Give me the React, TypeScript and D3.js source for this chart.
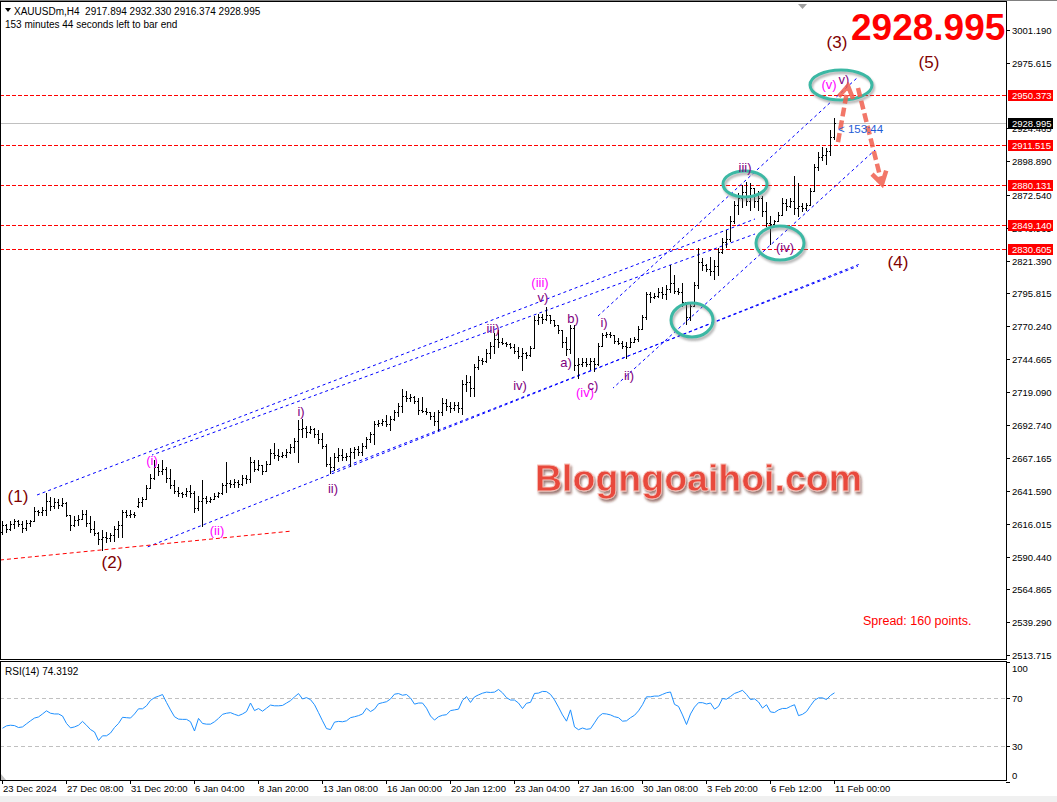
import React from "react";
import * as d3 from "d3";

const W = 1057;
const H = 802;
const AXIS_X = 1006;
const MAIN_TOP = 2;
const MAIN_BOT = 659;
const RSI_TOP = 661;
const RSI_BOT = 780;

// H4 bars [open, high, low, close], 23 Dec 2024 -> 11 Feb 2025
const bars: [number, number, number, number][] = [
  [2610, 2618, 2608, 2615], [2615, 2616, 2610, 2612], [2612, 2618, 2611, 2616], [2616, 2620, 2613, 2618],
  [2618, 2619, 2614, 2616], [2616, 2618, 2610, 2613], [2613, 2619, 2611, 2617], [2617, 2619, 2614, 2618],
  [2618, 2629, 2618, 2626], [2626, 2627, 2623, 2625], [2625, 2629, 2623, 2627], [2627, 2640, 2623, 2634],
  [2634, 2637, 2627, 2630], [2630, 2636, 2628, 2633], [2633, 2635, 2628, 2631], [2631, 2636, 2630, 2632],
  [2632, 2633, 2622, 2623], [2623, 2623, 2611, 2615], [2615, 2622, 2614, 2619], [2619, 2623, 2615, 2620],
  [2620, 2627, 2620, 2624], [2624, 2627, 2614, 2617], [2617, 2622, 2610, 2612], [2612, 2618, 2607, 2609],
  [2609, 2610, 2600, 2604], [2604, 2611, 2596, 2606], [2606, 2610, 2602, 2605], [2605, 2609, 2603, 2607],
  [2607, 2614, 2603, 2612], [2612, 2618, 2606, 2615], [2615, 2627, 2606, 2625], [2625, 2627, 2621, 2623],
  [2623, 2627, 2621, 2624], [2624, 2625, 2621, 2623], [2630, 2636, 2629, 2633], [2633, 2637, 2630, 2635],
  [2635, 2646, 2635, 2644], [2644, 2655, 2644, 2652], [2652, 2666, 2651, 2660], [2660, 2663, 2654, 2657],
  [2657, 2666, 2655, 2659], [2659, 2660, 2649, 2652], [2652, 2659, 2644, 2646], [2646, 2650, 2640, 2642],
  [2642, 2645, 2638, 2640], [2640, 2641, 2637, 2639], [2639, 2644, 2638, 2642], [2642, 2646, 2637, 2640],
  [2640, 2642, 2625, 2628], [2628, 2638, 2627, 2634], [2634, 2650, 2614, 2636], [2636, 2638, 2632, 2634],
  [2634, 2637, 2633, 2635], [2635, 2640, 2635, 2638], [2638, 2641, 2637, 2640], [2640, 2648, 2639, 2646],
  [2646, 2664, 2641, 2648], [2648, 2650, 2645, 2647], [2647, 2651, 2645, 2649], [2649, 2650, 2645, 2647],
  [2647, 2654, 2646, 2652], [2652, 2654, 2648, 2651], [2651, 2668, 2649, 2664], [2664, 2666, 2657, 2659],
  [2659, 2666, 2658, 2662], [2662, 2662, 2655, 2657], [2657, 2665, 2657, 2663], [2663, 2674, 2663, 2671],
  [2671, 2679, 2667, 2670], [2670, 2674, 2666, 2669], [2669, 2672, 2668, 2670], [2670, 2674, 2668, 2672],
  [2672, 2678, 2671, 2676], [2676, 2683, 2672, 2681], [2681, 2697, 2664, 2690], [2690, 2698, 2684, 2691],
  [2691, 2692, 2684, 2688], [2688, 2692, 2687, 2690], [2690, 2691, 2684, 2686], [2686, 2689, 2679, 2682],
  [2682, 2687, 2675, 2677], [2677, 2678, 2661, 2663], [2663, 2668, 2656, 2660], [2660, 2671, 2658, 2668],
  [2668, 2675, 2665, 2670], [2670, 2674, 2666, 2668], [2668, 2671, 2666, 2669], [2669, 2675, 2661, 2672],
  [2672, 2676, 2667, 2674], [2674, 2677, 2670, 2672], [2672, 2679, 2670, 2677], [2677, 2684, 2675, 2682],
  [2682, 2688, 2680, 2686], [2686, 2696, 2678, 2694], [2694, 2697, 2692, 2695], [2695, 2698, 2693, 2696],
  [2696, 2701, 2692, 2694], [2694, 2700, 2689, 2698], [2698, 2705, 2697, 2703], [2703, 2710, 2700, 2708],
  [2708, 2721, 2703, 2716], [2716, 2720, 2712, 2714], [2714, 2717, 2712, 2715], [2715, 2716, 2710, 2712],
  [2712, 2714, 2702, 2705], [2705, 2715, 2703, 2704], [2704, 2706, 2702, 2703], [2703, 2703, 2698, 2700],
  [2700, 2703, 2693, 2696], [2696, 2705, 2689, 2703], [2703, 2714, 2701, 2710], [2710, 2713, 2705, 2708],
  [2708, 2711, 2703, 2706], [2706, 2711, 2705, 2709], [2709, 2711, 2703, 2706], [2706, 2728, 2702, 2725],
  [2725, 2732, 2720, 2727], [2727, 2731, 2716, 2722], [2722, 2741, 2716, 2738], [2738, 2747, 2737, 2744],
  [2744, 2745, 2741, 2743], [2743, 2752, 2742, 2749], [2749, 2758, 2745, 2755], [2755, 2765, 2749, 2760],
  [2760, 2767, 2754, 2758], [2758, 2761, 2756, 2757], [2757, 2758, 2755, 2756], [2756, 2757, 2753, 2754],
  [2754, 2756, 2749, 2751], [2751, 2754, 2745, 2747], [2747, 2753, 2736, 2749], [2749, 2750, 2745, 2748],
  [2748, 2755, 2747, 2753], [2753, 2778, 2753, 2775], [2775, 2780, 2772, 2777], [2777, 2780, 2773, 2776],
  [2776, 2785, 2775, 2779], [2779, 2779, 2773, 2775], [2775, 2775, 2770, 2771], [2771, 2771, 2765, 2767],
  [2767, 2767, 2754, 2758], [2758, 2762, 2748, 2752], [2752, 2771, 2749, 2769], [2769, 2771, 2736, 2740],
  [2740, 2745, 2730, 2741], [2741, 2745, 2739, 2742], [2742, 2745, 2739, 2741], [2741, 2745, 2737, 2743],
  [2743, 2745, 2735, 2741], [2741, 2757, 2740, 2755], [2755, 2765, 2755, 2763], [2763, 2766, 2762, 2764],
  [2764, 2766, 2762, 2763], [2763, 2763, 2757, 2759], [2759, 2761, 2756, 2757], [2757, 2759, 2753, 2755],
  [2755, 2758, 2745, 2754], [2754, 2761, 2754, 2758], [2758, 2762, 2758, 2760], [2760, 2770, 2759, 2768],
  [2768, 2779, 2768, 2777], [2777, 2797, 2776, 2795], [2795, 2797, 2789, 2793], [2793, 2796, 2792, 2794],
  [2794, 2800, 2793, 2797], [2797, 2801, 2792, 2795], [2795, 2802, 2791, 2799], [2799, 2818, 2797, 2804],
  [2804, 2810, 2796, 2798], [2798, 2800, 2795, 2797], [2797, 2804, 2786, 2789], [2789, 2789, 2772, 2777],
  [2777, 2789, 2775, 2786], [2786, 2805, 2786, 2802], [2802, 2831, 2800, 2820], [2820, 2823, 2814, 2818],
  [2818, 2819, 2813, 2815], [2815, 2824, 2810, 2813], [2813, 2822, 2807, 2817], [2817, 2831, 2810, 2828],
  [2828, 2839, 2827, 2836], [2836, 2845, 2832, 2838], [2838, 2856, 2837, 2852], [2852, 2868, 2851, 2865],
  [2865, 2874, 2858, 2870], [2870, 2880, 2863, 2875], [2875, 2883, 2865, 2868], [2868, 2882, 2861, 2878],
  [2878, 2878, 2863, 2868], [2868, 2876, 2861, 2870], [2870, 2872, 2856, 2860], [2860, 2867, 2848, 2851],
  [2851, 2856, 2834, 2850], [2850, 2853, 2848, 2852], [2852, 2859, 2852, 2857], [2857, 2870, 2857, 2866],
  [2866, 2869, 2861, 2864], [2864, 2870, 2863, 2868], [2868, 2887, 2858, 2862], [2862, 2882, 2856, 2864],
  [2864, 2866, 2860, 2862], [2862, 2866, 2861, 2865], [2865, 2878, 2865, 2876], [2876, 2897, 2876, 2894],
  [2894, 2906, 2892, 2902], [2902, 2910, 2900, 2904], [2904, 2909, 2897, 2907], [2907, 2923, 2904, 2918],
  [2917.894, 2932.33, 2916.374, 2928.995],
];

const rsi = [
  44.8, 46.8, 47.3, 47.0, 45.4, 45.9, 48.5, 51.0, 53.3, 54.2, 56.7, 59.3, 57.3, 56.7, 56.7, 55.0, 48.8, 45.1,
  45.9, 47.3, 50.5, 47.3, 43.7, 41.7, 34.6, 38.5, 38.5, 40.8, 45.4, 48.8, 53.9, 53.6, 53.3, 56.7, 61.0,
  61.0, 63.5, 68.0, 70.3, 71.5, 72.9, 66.3, 60.1, 54.4, 52.4, 52.2, 52.2, 50.2, 42.5, 53.0, 48.8, 48.2, 48.2,
  50.2, 53.0, 56.4, 57.3, 57.8, 56.4, 55.3, 56.7, 58.7, 65.8, 59.5, 61.2, 59.0, 61.5, 64.1, 63.5, 63.5, 63.8,
  65.8, 67.8, 70.9, 73.7, 69.2, 70.3, 68.6, 64.4, 57.8, 51.0, 44.5, 43.7, 49.9, 50.5, 50.2, 51.0, 53.6, 54.4,
  55.3, 56.7, 61.5, 58.7, 60.7, 65.2, 66.1, 66.9, 69.2, 73.2, 73.7, 72.3, 72.9, 70.0, 64.9, 65.8,
  65.8, 61.5, 55.0, 51.6, 54.4, 55.6, 56.1, 59.5, 60.1, 60.7, 68.0, 71.2, 66.3, 70.9, 72.6, 74.0, 74.9, 74.6,
  74.9, 77.1, 74.3, 70.3, 68.3, 68.3, 65.8, 61.2,
  65.6, 66.4, 73.8, 74.1, 75.5, 75.3, 73.0, 68.4, 62.4, 55.9, 50.7, 60.1, 45.9, 43.6, 45.0, 43.9, 44.4, 49.3,
  54.4, 57.0, 56.7, 55.9, 54.4, 53.6, 50.7, 51.0, 53.6, 55.6, 59.3, 64.4, 71.0, 71.0, 71.6, 71.6, 73.0, 74.4,
  75.0, 64.7, 63.0, 55.9, 47.9, 56.7, 62.4, 66.1, 66.1, 65.0, 65.8, 60.7, 63.0, 69.6, 69.0, 71.3, 73.8, 75.0,
  76.4, 73.0, 68.7, 69.3, 66.7, 61.6, 64.4, 58.4, 57.9, 60.1, 61.3, 61.3, 63.0, 64.4, 55.3, 56.4, 58.7, 63.6,
  68.1, 70.1, 70.1, 68.7, 72.1, 74.3192,
];

const dateLabels = [
  "23 Dec 2024", "27 Dec 08:00", "31 Dec 20:00", "6 Jan 04:00", "8 Jan 20:00", "13 Jan 08:00", "16 Jan 00:00",
  "20 Jan 12:00", "23 Jan 04:00", "27 Jan 16:00", "30 Jan 08:00", "3 Feb 20:00", "6 Feb 12:00", "11 Feb 00:00",
];
const labelEvery = 16;

const priceTicks = [
  3001.19, 2975.615, 2924.465, 2898.89, 2872.54, 2846.965, 2821.39, 2795.815, 2770.24, 2744.665, 2719.09,
  2692.74, 2667.165, 2641.59, 2616.015, 2590.44, 2564.865, 2539.29, 2513.715,
];
const levels = [2950.373, 2911.515, 2880.131, 2849.14, 2830.605];
const lastPrice = 2928.995;
const rsiLevels = [70, 30];
const rsiTicks = [100, 70, 30, 0];

// trend lines as [barIndex, price] pairs
const channelLines: [number, number][][] = [
  [[8.75, 2638.5], [188.25, 2853.8]],
  [[37.5, 2669.7], [188.25, 2842.1]],
  [[35.75, 2597.2], [214.5, 2818.7]],
  [[82, 2656.1], [214, 2817.0]],
  [[149, 2778.1], [214, 2964.5]],
  [[152.75, 2721.9], [218.25, 2907.6]],
];
const redTrend: [number, number][] = [[-0.5, 2587.8], [72.5, 2610.4]];

const maroon = "#800000";
const purple = "#800080";
const magenta = "#ff00ff";
const waveLabels: { t: string; k: number; p: number; c: string; big?: boolean }[] = [
  { t: "(1)", k: 4, p: 2637.7, c: maroon, big: true },
  { t: "(2)", k: 27.5, p: 2586.2, c: maroon, big: true },
  { t: "(3)", k: 208.75, p: 2991.8, c: maroon, big: true },
  { t: "(4)", k: 224, p: 2820.2, c: maroon, big: true },
  { t: "(5)", k: 231.75, p: 2976.2, c: maroon, big: true },
  { t: "(i)", k: 37.5, p: 2665.8, c: magenta },
  { t: "(ii)", k: 53.75, p: 2611.2, c: magenta },
  { t: "i)", k: 74.75, p: 2704.0, c: purple },
  { t: "ii)", k: 82.75, p: 2643.2, c: purple },
  { t: "iii)", k: 122.75, p: 2768.0, c: purple },
  { t: "iv)", k: 129.5, p: 2724.3, c: purple },
  { t: "(iii)", k: 134.5, p: 2804.6, c: magenta },
  { t: "v)", k: 135.25, p: 2792.9, c: purple },
  { t: "b)", k: 142.75, p: 2775.8, c: purple },
  { t: "a)", k: 141, p: 2742.2, c: purple },
  { t: "(iv)", k: 145.75, p: 2718.8, c: magenta },
  { t: "c)", k: 147.75, p: 2724.3, c: purple },
  { t: "i)", k: 150.5, p: 2772.7, c: purple },
  { t: "ii)", k: 156.75, p: 2732.1, c: purple },
  { t: "iii)", k: 185.75, p: 2894.3, c: purple },
  { t: "(iv)", k: 195.75, p: 2831.2, c: purple },
  { t: "(v)", k: 206.75, p: 2958.3, c: magenta },
  { t: "v)", k: 210.5, p: 2962.2, c: purple },
];

const circles = [
  { k: 209.75, p: 2958.3, rx: 31, ry: 15 },
  { k: 185.75, p: 2881.1, rx: 22, ry: 13 },
  { k: 194.5, p: 2835.1, rx: 24, ry: 17 },
  { k: 172.5, p: 2775.0, rx: 21, ry: 17 },
];

const arrows: [number, number][][] = [
  [[209, 2913.8], [211.5, 2957.5]],
  [[214, 2955.9], [220, 2881.1]],
];

const x = d3.scaleLinear().domain([0, 208]).range([2, 834]);
const y = d3.scaleLinear().domain([3001.19, 2513.715]).range([30, 655]);
const ry = d3.scaleLinear().domain([0, 100]).range([782, 662]);

const font = "'Liberation Sans', Arial, sans-serif";

function arrowPaths(a: [number, number][]) {
  const [x1, y1] = [x(a[0][0]), y(a[0][1])];
  const [x2, y2] = [x(a[1][0]), y(a[1][1])];
  const ang = Math.atan2(y2 - y1, x2 - x1);
  const L = 14;
  const p1 = [x2 - L * Math.cos(ang - 0.55), y2 - L * Math.sin(ang - 0.55)];
  const p2 = [x2 - L * Math.cos(ang + 0.55), y2 - L * Math.sin(ang + 0.55)];
  return { line: `M${x1},${y1}L${x2},${y2}`, head: `M${p1[0]},${p1[1]}L${x2},${y2}L${p2[0]},${p2[1]}` };
}

export default function App() {
  const rsiLine = d3
    .line<number>()
    .x((_, i) => Math.round(x(i)) + 0.5)
    .y((d) => ry(d))(rsi);
  const seg = d3
    .line<[number, number]>()
    .x((d) => x(d[0]))
    .y((d) => y(d[1]));

  return (
    <svg
      width={W}
      height={H}
      style={{ position: "absolute", left: 0, top: 0, background: "#fff" }}
      fontFamily={font}
    >
      <defs>
        <clipPath id="mainClip">
          <rect x={1} y={MAIN_TOP} width={AXIS_X - 1} height={MAIN_BOT - MAIN_TOP} />
        </clipPath>
        <clipPath id="rsiClip">
          <rect x={1} y={RSI_TOP} width={AXIS_X - 1} height={RSI_BOT - RSI_TOP} />
        </clipPath>
        <filter id="blur" x="-20%" y="-40%" width="140%" height="180%">
          <feGaussianBlur stdDeviation="1.3" />
        </filter>
        <filter id="wm" x="-5%" y="-20%" width="110%" height="150%">
          <feDropShadow dx="1.5" dy="2.5" stdDeviation="1.2" floodColor="#5a1a12" floodOpacity="0.6" />
        </filter>
      </defs>

      <rect x={0} y={796} width={W} height={6} fill="#f0f0f0" />

      {/* main panel */}
      <g clipPath="url(#mainClip)">
        {levels.map((l) => (
          <line key={l} x1={0} x2={AXIS_X} y1={Math.round(y(l)) + 0.5} y2={Math.round(y(l)) + 0.5}
            stroke="#ff0000" strokeDasharray="4,2" />
        ))}
        <line x1={0} x2={AXIS_X} y1={Math.round(y(lastPrice)) + 0.5} y2={Math.round(y(lastPrice)) + 0.5}
          stroke="#c0c0c0" />
        {channelLines.map((l, i) => (
          <path key={i} d={seg(l) || ""} stroke="#0000ff" strokeDasharray="3,3" strokeDashoffset={i * 1.5}
            fill="none" />
        ))}
        <path d={seg(redTrend) || ""} stroke="#ff0000" strokeDasharray="4,3" fill="none" />

        <g fill="#000" shapeRendering="crispEdges">
          {bars.map((b, i) => {
            const bx = Math.round(x(i));
            const yh = Math.round(y(b[1]));
            const yl = Math.round(y(b[2]));
            return (
              <g key={i}>
                <rect x={bx} y={yh} width={1} height={Math.max(1, yl - yh + 1)} />
                <rect x={bx - 1} y={Math.round(y(b[0]))} width={1} height={1} />
                <rect x={bx + 1} y={Math.round(y(b[3]))} width={1} height={1} />
              </g>
            );
          })}
        </g>

        {circles.map((c, i) => (
          <g key={i}>
            <ellipse cx={x(c.k) + 1.5} cy={y(c.p) + 2.5} rx={c.rx} ry={c.ry} fill="none" stroke="#777"
              strokeWidth={3} opacity={0.55} filter="url(#blur)" />
            <ellipse cx={x(c.k)} cy={y(c.p)} rx={c.rx} ry={c.ry} fill="none" stroke="#3cb8a4" strokeWidth={3} />
          </g>
        ))}

        {waveLabels.map((w, i) => (
          <text key={i} x={x(w.k)} y={y(w.p)} fill={w.c} fontSize={w.big ? 17 : 13} textAnchor="middle"
            dominantBaseline="central">{w.t}</text>
        ))}

        {arrows.map((a, i) => {
          const ap = arrowPaths(a);
          return (
            <g key={i} stroke="#f0604f" strokeWidth={4.5} fill="none" opacity={0.85} strokeDasharray="9,4">
              <path d={ap.line} />
              <path d={ap.head} strokeDasharray="none" />
            </g>
          );
        })}

        <text x={838} y={133} fill="#1e5cd6" fontSize={11.5}>{"< 153:44"}</text>

        <text x={535} y={491} fontSize={37.5} fontWeight="bold" fill="#e84a3c" stroke="#f8c0b8"
          strokeWidth={0.8} filter="url(#wm)">Blogngoaihoi.com</text>

        <text x={863} y={625} fill="#ff0000" fontSize={12.5}>Spread: 160 points.</text>
        <text x={851} y={40} fill="#ff0000" fontSize={37} fontWeight="bold">2928.995</text>

        <path d="M798,4 L807,4 L802.5,9 Z" fill="#a0a0a0" />
      </g>

      {/* RSI panel */}
      <g clipPath="url(#rsiClip)">
        {rsiLevels.map((l) => (
          <line key={l} x1={0} x2={AXIS_X} y1={Math.round(ry(l)) + 0.5} y2={Math.round(ry(l)) + 0.5}
            stroke="#c0c0c0" strokeDasharray="4,3" />
        ))}
        <path d={rsiLine || ""} fill="none" stroke="#1e90ff" strokeWidth={1} />
        <text x={5} y={675} fontSize={10} fill="#000">RSI(14) 74.3192</text>
        <path d="M1,774 L1,780 L6,780 Z" fill="#c0c0c0" />
      </g>

      {/* frames */}
      <g fill="none" stroke="#000" shapeRendering="crispEdges">
        <line x1={0} x2={W} y1={0.5} y2={0.5} stroke="#808080" />
        <rect x={0.5} y={MAIN_TOP - 0.5} width={AXIS_X} height={MAIN_BOT - MAIN_TOP + 0.5} />
        <rect x={0.5} y={RSI_TOP + 0.5} width={AXIS_X} height={RSI_BOT - RSI_TOP} />
      </g>

      {/* header */}
      <path d="M5,8 L11,8 L8,12 Z" fill="#000" />
      <text x={14} y={15} fontSize={10} fill="#000" style={{ whiteSpace: "pre" }}>
        XAUUSDm,H4  2917.894 2932.330 2916.374 2928.995
      </text>
      <text x={5} y={28} fontSize={10} fill="#000">153 minutes 44 seconds left to bar end</text>

      {/* price axis */}
      <g fontSize={9.5} fill="#000">
        {priceTicks.map((t) => {
          const ty = Math.round(y(t));
          return (
            <g key={t}>
              <line x1={AXIS_X} x2={AXIS_X + 4} y1={ty + 0.5} y2={ty + 0.5} stroke="#000" />
              <text x={1012} y={ty + 3.5}>{t.toFixed(3)}</text>
            </g>
          );
        })}
        {levels.map((l) => {
          const ty = Math.round(y(l));
          return (
            <g key={l}>
              <rect x={1008} y={ty - 5} width={45} height={11} fill="#ff0000" />
              <text x={1012} y={ty + 3.5} fill="#fff">{l.toFixed(3)}</text>
            </g>
          );
        })}
        <rect x={1008} y={Math.round(y(lastPrice)) - 5} width={45} height={11} fill="#000" />
        <text x={1012} y={Math.round(y(lastPrice)) + 3.5} fill="#fff">{lastPrice.toFixed(3)}</text>
      </g>

      {/* RSI axis */}
      <g fontSize={9.5} fill="#000">
        {rsiTicks.map((t) => {
          const ty = Math.round(ry(t));
          const ly = Math.min(Math.max(ty, 668), 775);
          return (
            <g key={t}>
              <line x1={AXIS_X} x2={AXIS_X + 4} y1={ty + 0.5} y2={ty + 0.5} stroke="#000" />
              <text x={1012} y={ly + 3.5}>{t}</text>
            </g>
          );
        })}
      </g>

      {/* time axis */}
      <g fontSize={9.5} fill="#000">
        {dateLabels.map((d, i) => {
          const tx = Math.round(x(i * labelEvery));
          return (
            <g key={d}>
              <line x1={tx + 0.5} x2={tx + 0.5} y1={RSI_BOT} y2={RSI_BOT + 4} stroke="#000" />
              <text x={tx + 1} y={792}>{d}</text>
            </g>
          );
        })}
      </g>
    </svg>
  );
}
